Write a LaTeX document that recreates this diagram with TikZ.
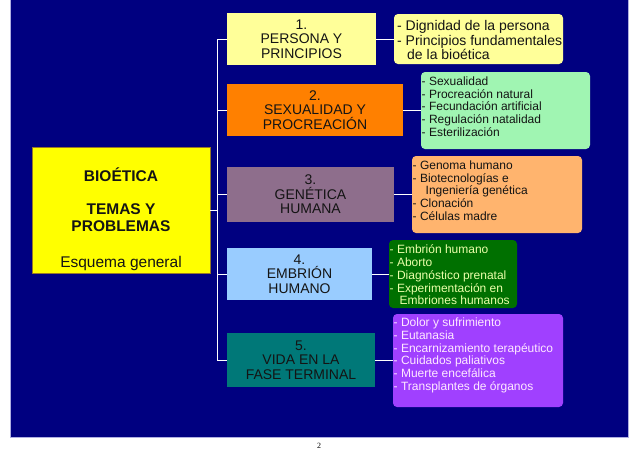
\documentclass[tikz,border=0pt]{standalone}
\usepackage{fontspec}
\setmainfont{Liberation Sans}
\newfontfamily\pagenumfont{Liberation Serif}
\definecolor{bgnavy}{RGB}{0,0,128}
\definecolor{bgedge}{RGB}{175,175,225}
\definecolor{mainyel}{RGB}{255,255,0}
\definecolor{mainedge}{RGB}{150,120,40}
\definecolor{paleyel}{RGB}{255,255,153}
\definecolor{orangeb}{RGB}{255,128,0}
\definecolor{mauve}{RGB}{142,110,140}
\definecolor{lightblue}{RGB}{153,204,255}
\definecolor{tealb}{RGB}{0,120,120}
\definecolor{mint}{RGB}{160,245,178}
\definecolor{lorange}{RGB}{255,180,110}
\definecolor{dgreen}{RGB}{0,112,0}
\definecolor{purp}{RGB}{160,64,255}
\definecolor{gtext}{RGB}{235,255,170}
\definecolor{ptext}{RGB}{255,232,255}
\definecolor{darktext}{RGB}{20,20,20}
\begin{document}
\begin{tikzpicture}[x=1pt,y=-1pt,
  topicbox/.style={rectangle, inner sep=0pt, align=center, text=darktext,
    font=\fontsize{14}{14.5}\selectfont},
  listbox/.style={rectangle, rounded corners=4pt, inner sep=0pt},
  listtext/.style={anchor=west, inner sep=0pt, align=left, text=darktext,
    font=\fontsize{12}{12.7}\selectfont},
  conn/.style={draw=white, line width=0.9pt}]
\useasboundingbox (0,0) rectangle (638,451);
\fill[bgnavy, draw=bgedge, line width=0.8pt] (10,-1) rectangle (628,437);

% main box
\node[rectangle, inner sep=0pt, fill=mainyel, draw=mainedge, line width=0.6pt,
  minimum width=178pt, minimum height=126pt] (m) at (121,210) {};
\node[align=center, inner sep=0pt, text=darktext,
  font=\fontsize{15.5}{16.5}\selectfont\bfseries] (mt) at (121,219.5)
  {BIOÉTICA\\[16.5pt]TEMAS Y\\PROBLEMAS\\[20pt]\mdseries Esquema general};

% topic boxes
\node[topicbox, fill=paleyel, minimum width=149pt, minimum height=52pt] (b1) at (301.5,39)
  {1.\\PERSONA Y\\PRINCIPIOS};
\node[topicbox, fill=orangeb, minimum width=176pt, minimum height=52pt] (b2) at (315,110)
  {2.\\SEXUALIDAD Y\\PROCREACIÓN};
\node[topicbox, fill=mauve, minimum width=167pt, minimum height=55pt] (b3) at (310.5,194.5)
  {3.\\GENÉTICA\\HUMANA};
\node[topicbox, fill=lightblue, minimum width=145pt, minimum height=52pt] (b4) at (299.5,274)
  {4.\\EMBRIÓN\\HUMANO};
\node[topicbox, fill=tealb, minimum width=148pt, minimum height=54pt] (b5) at (301,360)
  {5.\\VIDA EN LA\\FASE TERMINAL};

% list boxes
\node[listbox, fill=paleyel, minimum width=169pt, minimum height=50pt] (t1) at (478.5,39) {};
\node[listbox, fill=mint, minimum width=169pt, minimum height=77pt] (t2) at (505.5,110.5) {};
\node[listbox, fill=lorange, minimum width=170pt, minimum height=77pt] (t3) at (497,194.5) {};
\node[listbox, fill=dgreen, minimum width=128pt, minimum height=68pt] (t4) at (453,274) {};
\node[listbox, fill=purp, minimum width=170pt, minimum height=93pt] (t5) at (478,360.5) {};

% list texts
\node[listtext, font=\fontsize{14}{14.5}\selectfont] (l1) at (397,40)
  {- Dignidad de la persona\\- Principios fundamentales\\\hspace*{10pt}de la bioética};
\node[listtext] (l2) at (421.5,106.5)
  {- Sexualidad\\- Procreación natural\\- Fecundación artificial\\- Regulación natalidad\\- Esterilización};
\node[listtext] (l3) at (412.5,190.5)
  {- Genoma humano\\- Biotecnologías e\\\hspace*{13pt}Ingeniería genética\\- Clonación\\- Células madre};
\node[listtext, text=gtext] (l4) at (389.5,275)
  {- Embrión humano\\- Aborto\\- Diagnóstico prenatal\\- Experimentación en\\\hspace*{10pt}Embriones humanos};
\node[listtext, text=ptext] (l5) at (393.5,355.5)
  {- Dolor y sufrimiento\\- Eutanasia\\- Encarnizamiento terapéutico\\- Cuidados paliativos\\- Muerte encefálica\\- Transplantes de órganos};

% connectors
\draw[conn] (m.east) -- ++(8,0);
\draw[conn] (b1.west) -- ++(-9,0) |- (b5.west);
\draw[conn] (b2.west) -- ++(-9,0);
\draw[conn] (b3.west) -- ++(-9,0);
\draw[conn] (b4.west) -- ++(-9,0);
\draw[conn] (b1.east) -- (b1.east -| t1.west);
\draw[conn] (b2.east) -- (b2.east -| t2.west);
\draw[conn] (b3.east) -- (b3.east -| t3.west);
\draw[conn] (b4.east) -- (b4.east -| t4.west);
\draw[conn] (b5.east) -- (b5.east -| t5.west);

% page number
\node[inner sep=0pt, font=\pagenumfont\fontsize{8}{9}\selectfont] (pg) at (319,446) {2};
\end{tikzpicture}
\end{document}
